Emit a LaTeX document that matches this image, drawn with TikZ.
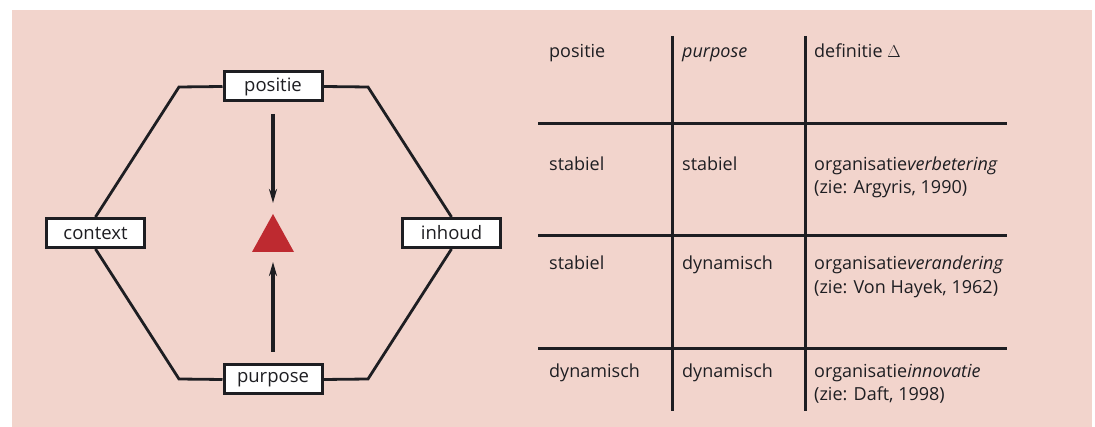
\documentclass[tikz,border=0pt]{standalone}
\usepackage{fontspec}
\setmainfont{Open Sans}
\usetikzlibrary{arrows.meta}
\definecolor{bgpink}{HTML}{F2D4CC}
\definecolor{trired}{HTML}{BE2A30}
\definecolor{ink}{HTML}{1E1E22}
\begin{document}
\begin{tikzpicture}[x=1pt,y=-1pt,
  lbl/.style={draw=ink,line width=3pt,fill=white,inner sep=0pt,minimum width=98pt,minimum height=29pt,font=\fontsize{18.5}{22}\selectfont,text=ink},
  edge/.style={draw=ink,line width=2.8pt},
  tline/.style={draw=ink,line width=3pt},
  arr/.style={draw=ink,line width=3.4pt,-{Stealth[length=14pt,width=8pt]}},
  cell/.style={anchor=base west,inner sep=0pt,font=\fontsize{18}{21}\selectfont,text=ink}]
\useasboundingbox (0,0) rectangle (1095,427);
\fill[bgpink] (12,10) rectangle (1092,427);
% hexagon nodes
\node[lbl] (pos) at (273,86.5) {positie};
\node[lbl] (pur) at (273,379.5) {purpose};
\node[lbl] (ctx) at (95.5,233) {context};
\node[lbl] (inh) at (451.5,233) {inhoud};
\coordinate (tl) at (179,87);
\coordinate (tr) at (368,87);
\coordinate (bl) at (179,379);
\coordinate (br) at (368,379);
\draw[edge] (pos.west) -- (tl) -- (ctx.north);
\draw[edge] (pos.east) -- (tr) -- (inh.north);
\draw[edge] (pur.west) -- (bl) -- (ctx.south);
\draw[edge] (pur.east) -- (br) -- (inh.south);
% triangle
\fill[trired] (273,214) -- (294,252) -- (252,252) -- cycle;
\coordinate (tritop) at (273,203);
\coordinate (tribot) at (273,262);
\coordinate (a1) at (273,114);
\coordinate (a2) at (273,352);
\draw[arr] (a1) -- (tritop);
\draw[arr] (a2) -- (tribot);
% table
\draw[tline] (538,124) -- (1007,124);
\draw[tline] (538,236) -- (1007,236);
\draw[tline] (538,349) -- (1007,349);
\draw[tline] (672,36) -- (672,411);
\draw[tline] (805,36) -- (805,411);
\node[cell] (h1) at (549,58) {positie};
\node[cell] (h2) at (682,58) {\itshape purpose};
\node[cell] (h3) at (814,58) {definitie $\Delta$};
\node[cell] (r1a) at (549,171) {stabiel};
\node[cell] (r1b) at (682,171) {stabiel};
\node[cell] (r1c) at (814,171) {organisatie\textit{verbetering}};
\node[cell] (r1d) at (814,194) {(zie: Argyris, 1990)};
\node[cell] (r2a) at (549,270) {stabiel};
\node[cell] (r2b) at (682,270) {dynamisch};
\node[cell] (r2c) at (814,270) {organisatie\textit{verandering}};
\node[cell] (r2d) at (814,294) {(zie: Von Hayek, 1962)};
\node[cell] (r3a) at (549,378) {dynamisch};
\node[cell] (r3b) at (682,378) {dynamisch};
\node[cell] (r3c) at (814,378) {organisatie\textit{innovatie}};
\node[cell] (r3d) at (814,401) {(zie: Daft, 1998)};
\end{tikzpicture}
\end{document}
